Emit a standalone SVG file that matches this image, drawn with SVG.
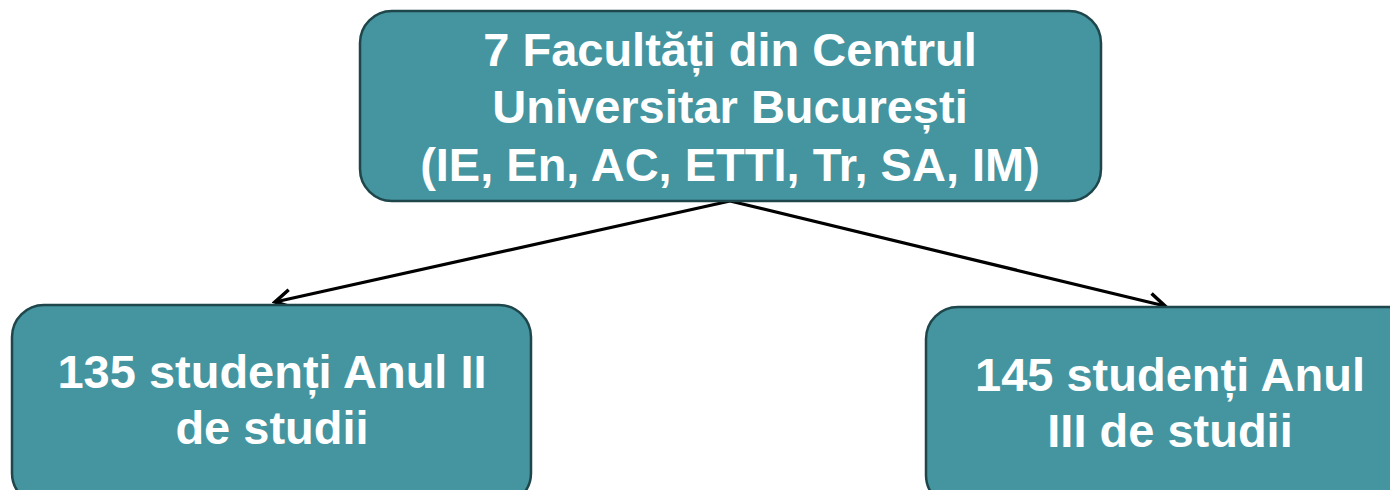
<svg xmlns="http://www.w3.org/2000/svg" width="1390" height="490" viewBox="0 0 1390 490">
<defs>
<style>
.box{fill:#44959F;stroke:#1E464B;stroke-width:2.5}
.t{font-family:"Liberation Sans",Arial,sans-serif;font-weight:bold;font-size:47px;fill:#fff;text-anchor:middle}
.c{stroke:#000;stroke-width:3.2;fill:none}
</style>
<marker id="ah" viewBox="0 0 24 24" refX="21" refY="12" markerWidth="24" markerHeight="24" markerUnits="userSpaceOnUse" orient="auto">
<path d="M5,3 L21,12 L5,21" fill="none" stroke="#000" stroke-width="3.5"/>
</marker>
</defs>
<rect width="1390" height="490" fill="#fff"/>
<g id="connectors">
<line class="c" x1="730" y1="201" x2="275" y2="302" marker-end="url(#ah)"/>
<line class="c" x1="730" y1="201" x2="1165" y2="306" marker-end="url(#ah)"/>
</g>
<g id="top">
<rect class="box" x="360" y="11" width="741" height="190" rx="32"/>
<text class="t" x="730" y="66">7 Facultăți din Centrul</text>
<text class="t" x="730" y="123">Universitar București</text>
<text class="t" x="730" y="181">(IE, En, AC, ETTI, Tr, SA, IM)</text>
</g>
<g id="left">
<rect class="box" x="12" y="305" width="519" height="200" rx="32"/>
<text class="t" x="272" y="388">135 studenți Anul II</text>
<text class="t" x="272" y="444">de studii</text>
</g>
<g id="right">
<rect class="box" x="926" y="307" width="500" height="200" rx="32"/>
<text class="t" x="1170" y="391">145 studenți Anul</text>
<text class="t" x="1170" y="447">III de studii</text>
</g>
</svg>
